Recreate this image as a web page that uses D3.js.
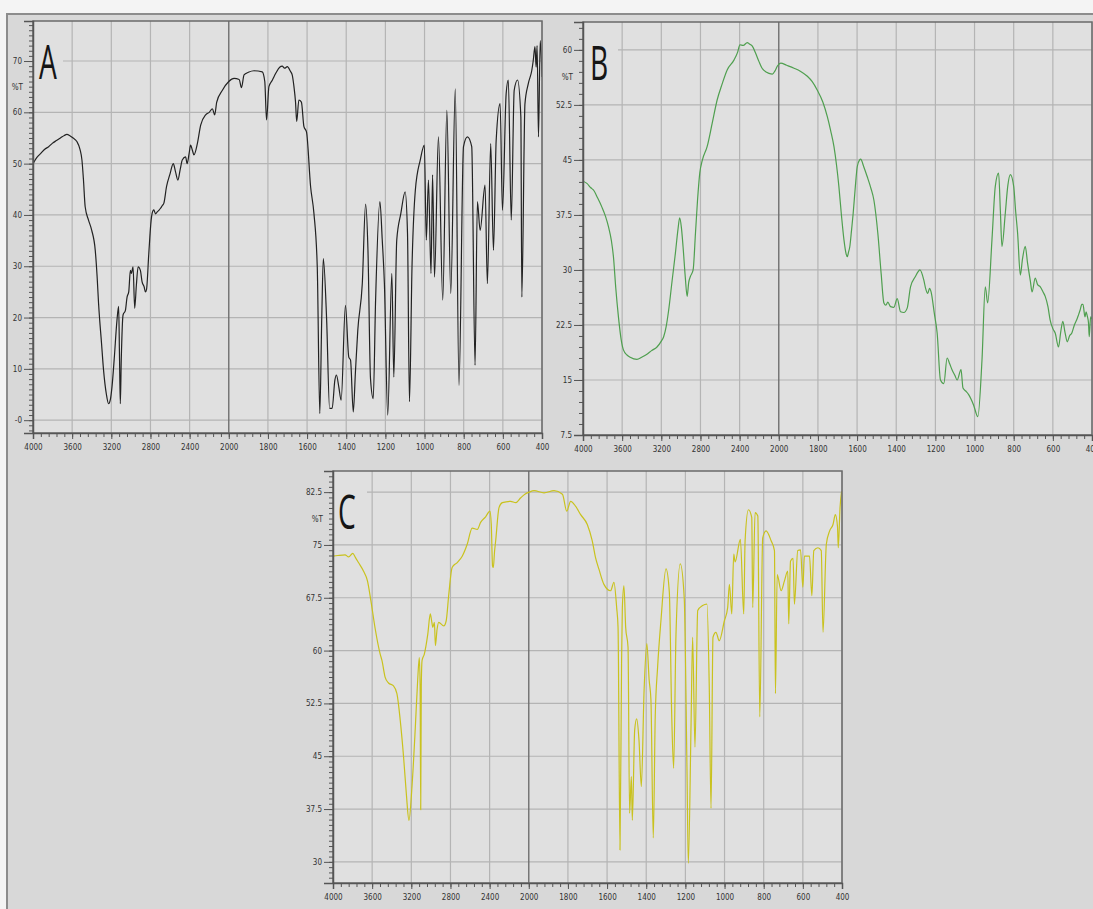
<!DOCTYPE html>
<html>
<head>
<meta charset="utf-8">
<script src="https://cdn.jsdelivr.net/npm/d3@7"></script>
<style>
  html, body { margin: 0; padding: 0; background: #f4f4f4; }
  svg { display: block; }
  .tick text { font-family: "DejaVu Sans Condensed", "DejaVu Sans", sans-serif; font-size: 8px; fill: #333; }
</style>
</head>
<body>
<svg id="chart" width="1093" height="909"></svg>
<script>
// wavenumber (cm-1), %T
var spectrumA = [
  [4000,50],[3960,51.2],[3920,52],[3880,52.8],[3840,53.3],[3800,54],[3760,54.5],[3720,55],[3680,55.5],[3654,55.7],
  [3620,55.4],[3590,55],[3552,54.3],[3520,52.8],[3500,50.7],[3485,47],[3467,41.6],[3433,39],[3400,37],[3364,33.1],
  [3345,28],[3330,22.7],[3300,15],[3279,9.7],[3250,5],[3228,3.2],[3210,4],[3193,6.5],[3170,12],[3142,19.5],
  [3125,22.2],[3116,12],[3108,3.2],[3098,12],[3080,20.5],[3056,21.4],[3039,24],[3022,25],[3005,29.2],[2995,28.6],
  [2978,29.9],[2961,21.8],[2944,26.3],[2926,29.9],[2903,29.2],[2886,27],[2865,26],[2851,25],[2840,25.5],[2817,32.5],
  [2793,39],[2783,40.3],[2766,41],[2748,40.2],[2731,40.6],[2714,40.9],[2697,41.3],[2680,41.8],[2663,42.3],[2636,45.5],
  [2600,48],[2567,50],[2545,48.5],[2520,46.8],[2495,49],[2475,50.7],[2441,51.3],[2425,50],[2405,52],[2390,53.6],
  [2370,52.5],[2356,51.7],[2321,53.9],[2287,57.5],[2236,59.5],[2200,60],[2167,60.7],[2144,59.5],[2123,62],[2065,64.3],
  [2000,66],[1973,66.6],[1947,66.4],[1935,64.8],[1922,67.3],[1900,67.8],[1871,68.1],[1829,67.9],[1816,66],[1807,58.5],
  [1795,65],[1777,66.3],[1760,67.6],[1740,68.8],[1727,69],[1715,68.6],[1701,68.9],[1685,68],[1676,67.3],[1667,65],
  [1659,62],[1653,58.2],[1642,62.4],[1629,62],[1616,57.2],[1603,56.2],[1582,45.5],[1565,40.3],[1548,29.9],[1535,1.3],
  [1525,20],[1517,31.5],[1500,19.5],[1485,2.3],[1472,2.3],[1458,7.8],[1450,8.8],[1438,6.5],[1426,3.9],[1404,22.4],
  [1387,12.3],[1378,11.7],[1364,1.6],[1353,9.4],[1341,17.5],[1318,26.6],[1301,42.1],[1289,33.1],[1276,8.1],[1262,4.2],
  [1250,23.4],[1228,42.6],[1216,35.1],[1205,26.6],[1188,1],[1167,28.6],[1157,8.4],[1142,35.1],[1121,40.3],[1099,44.5],
  [1087,36.4],[1077,3.6],[1064,29.9],[1047,44.8],[1022,50.7],[1001,53.6],[991,35.1],[980,46.8],[967,28.6],[959,47.8],
  [949,27.9],[929,55.2],[907,23.4],[886,60.4],[866,24.7],[843,64.6],[824,6.8],[801,53.3],[781,55.2],[759,53.3],
  [742,10.7],[730,42.6],[716,37],[691,45.8],[679,26.6],[662,53.9],[648,33.1],[634,54.6],[614,61.7],[602,40.9],
  [583,63.7],[572,66.3],[557,39],[542,64.3],[525,66.3],[508,59.1],[503,24],[487,61.7],[470,65.6],[452,68.2],
  [445,70],[436,72.8],[430,68.8],[425,73],[418,55.2],[409,74],[400,66.9]
];

var spectrumB = [
  [4000,42.1],[3960,41.8],[3920,41.2],[3894,40.9],[3850,39.8],[3808,38.6],[3770,37.3],[3740,35.9],[3710,34],[3689,31.8],
  [3665,27.5],[3638,23.6],[3610,20.5],[3587,19.1],[3550,18.4],[3518,18.1],[3449,17.8],[3400,18.1],[3347,18.5],[3300,19],
  [3244,19.5],[3200,20.3],[3176,20.9],[3150,22.3],[3125,24.5],[3090,28.5],[3056,32.3],[3030,35.5],[3012,37.1],[2995,35.8],
  [2978,33.2],[2955,29],[2936,26.4],[2920,28.3],[2903,29.1],[2875,30],[2851,35],[2830,39.5],[2807,43.2],[2780,45],
  [2732,46.8],[2680,50],[2629,53.2],[2580,55.3],[2526,57.3],[2458,58.6],[2420,59.7],[2397,60.7],[2363,60.6],[2322,61],
  [2300,60.8],[2270,60.5],[2235,59.5],[2202,58.4],[2175,57.6],[2151,57.2],[2100,56.8],[2065,56.7],[2040,57.1],[2014,57.8],
  [1990,58.2],[1960,57.9],[1922,57.5],[1890,57.1],[1854,56.4],[1830,55.7],[1803,54.5],[1775,52.9],[1752,50.9],[1735,49],
  [1718,46.8],[1705,44.3],[1693,41.4],[1680,37.5],[1667,34.1],[1656,32.2],[1650,31.8],[1644,32.4],[1637,33.2],[1628,35.5],
  [1620,37.7],[1610,41],[1599,44.1],[1587,45],[1582,45.1],[1565,44],[1548,42.7],[1530,41.2],[1514,39.5],[1494,35],
  [1477,29.5],[1463,25.5],[1453,25.2],[1443,25.6],[1429,25],[1412,24.9],[1395,26.1],[1378,24.3],[1361,24.2],[1344,24.8],
  [1327,27.7],[1302,29.1],[1290,29.7],[1279,30],[1259,28.6],[1250,27.5],[1239,26.8],[1230,27.5],[1222,27],[1205,24],
  [1191,21.4],[1174,15],[1157,14.5],[1140,18],[1127,17.2],[1115,16.4],[1100,15.6],[1089,15],[1069,16.4],[1059,13.9],
  [1045,13.5],[1030,13],[1005,11.6],[983,10],[962,17.7],[945,27.7],[933,25.5],[911,34.1],[894,41.4],[877,43.2],
  [868,38],[860,33.2],[843,37.7],[830,41.5],[817,43],[800,41.4],[790,38],[780,35],[766,29.3],[755,31.5],
  [741,33.2],[729,30.9],[715,28.5],[706,27],[690,28.9],[678,28],[664,27.7],[650,27],[639,26.4],[625,25],
  [614,23.2],[600,22],[588,21.4],[571,19.5],[560,21.5],[549,23],[538,21.5],[526,20.2],[515,21],[503,21.4],
  [490,22.5],[478,23.2],[470,23.8],[461,24.5],[452,25.3],[446,25.3],[436,23.6],[430,24.3],[424,23.7],[418,22.8],
  [414,20.9],[407,23.6],[400,23.3]
];

var spectrumC = [
  [4000,73.4],[3950,73.5],[3877,73.6],[3840,73.3],[3798,73.8],[3770,73.2],[3740,72.5],[3689,71.3],[3648,69.9],[3613,67.1],
  [3569,63.1],[3518,59.5],[3500,58.6],[3467,56.2],[3433,55.4],[3382,55],[3347,53.9],[3313,50.1],[3279,44.9],[3251,39.7],
  [3224,35.9],[3193,40.7],[3159,49.1],[3135,55.8],[3118,59],[3110,55],[3104,37.4],[3098,55],[3090,58.6],[3067,59.5],
  [3032,62.3],[3006,65.2],[2990,64],[2981,63.3],[2964,64],[2954,60.7],[2937,63],[2920,64],[2868,63.5],[2844,64.2],
  [2817,68],[2783,71.8],[2731,72.5],[2680,73.4],[2629,75.1],[2578,77.4],[2526,77.2],[2492,78.2],[2441,79],[2397,79.8],
  [2383,77.9],[2370,72],[2362,71.8],[2350,74],[2338,75.6],[2304,80.3],[2270,81],[2185,81.2],[2133,81],[2082,81.7],
  [2040,82.2],[1998,82.5],[1973,82.7],[1922,82.4],[1871,82.7],[1828,82.2],[1806,79.8],[1786,81.2],[1761,80.5],[1735,79.3],
  [1701,77.9],[1676,75.6],[1659,73.2],[1642,71.6],[1616,69.4],[1582,68.5],[1565,69.7],[1551,66.1],[1544,63.3],[1534,31.7],
  [1526,58],[1522,66.1],[1514,69.2],[1505,63.3],[1493,60.5],[1485,36.9],[1476,42.1],[1471,35.9],[1459,48.7],[1449,50.3],
  [1437,47.3],[1425,40.7],[1411,54.3],[1397,61],[1385,55.8],[1376,53],[1364,33.4],[1354,50.6],[1342,57.6],[1325,64.2],
  [1299,71.6],[1282,68.3],[1270,51],[1260,43.3],[1248,62.3],[1226,72.3],[1206,67.5],[1192,43.5],[1185,29.8],[1171,49.6],
  [1163,61.9],[1151,46.3],[1137,65.7],[1112,66.4],[1090,66.6],[1078,54.8],[1069,37.6],[1059,61.9],[1044,62.6],[1027,61.4],
  [1001,64.2],[984,66.1],[975,69.4],[963,65.2],[953,73.7],[946,72.6],[919,75.8],[902,65.2],[895,75.6],[878,80],
  [861,78.9],[856,66.1],[844,79.6],[830,79.1],[820,50.6],[805,76],[788,77],[762,75.6],[745,74.2],[740,53.9],
  [731,70.8],[711,68.5],[694,69.9],[677,71.3],[672,63.8],[663,72.7],[650,73.1],[643,66.6],[626,74.2],[612,74.3],
  [600,69],[592,73.4],[566,73.4],[554,67.8],[544,74.2],[523,74.6],[506,74.2],[497,62.6],[480,75.1],[463,77],
  [446,77.9],[434,79.3],[423,77.6],[419,74.6],[410,80.3],[402,82.6]
];

var xTicks = [4000, 3600, 3200, 2800, 2400, 2000, 1800, 1600, 1400, 1200, 1000, 800, 600, 400];

var yTicksA = [0, 10, 20, 30, 40, 50, 60, 70];
var yLabelsA = ["-0", "10", "20", "30", "40", "50", "60", "70"];
var yTicksB = [7.5, 15, 22.5, 30, 37.5, 45, 52.5, 60];
var yLabelsB = ["7.5", "15", "22.5", "30", "37.5", "45", "52.5", "60"];
var yTicksC = [30, 37.5, 45, 52.5, 60, 67.5, 75, 82.5];
var yLabelsC = ["30", "37.5", "45", "52.5", "60", "67.5", "75", "82.5"];

var svg = d3.select("#chart");

// grey frame behind the three panels
svg.append("rect").attr("x", 7).attr("y", 14).attr("width", 1100).attr("height", 900)
  .attr("fill", "#d8d8d8").attr("stroke", "#8c8c8c").attr("stroke-width", 2);

function drawPanel(p) {
  var w = p.x1 - p.x0;
  var x = d3.scaleLinear().domain([4000, 2000, 400]).range([p.x0, p.x0 + w * 5 / 13, p.x1]);
  var y = d3.scaleLinear().domain(p.yDomain).range([p.yBot, p.yTop]);

  var g = svg.append("g");
  var clipId = "clip" + p.letter;
  g.append("clipPath").attr("id", clipId).append("rect")
    .attr("x", p.x0).attr("y", p.yTop).attr("width", w).attr("height", p.yBot - p.yTop);

  g.append("rect").attr("x", p.x0).attr("y", p.yTop).attr("width", w).attr("height", p.yBot - p.yTop)
    .attr("fill", "#e0e0e0");

  // grid
  g.append("g").selectAll("line").data(p.yTicks).join("line")
    .attr("x1", p.x0).attr("x2", p.x1).attr("y1", d => y(d)).attr("y2", d => y(d))
    .attr("stroke", "#b4b4b4").attr("stroke-width", 1.2);
  g.append("g").selectAll("line").data(xTicks).join("line")
    .attr("x1", d => x(d)).attr("x2", d => x(d)).attr("y1", p.yTop).attr("y2", p.yBot)
    .attr("stroke", d => d === 2000 ? "#707070" : "#b4b4b4")
    .attr("stroke-width", d => d === 2000 ? 1.4 : 1.2);

  // letter with its own background patch
  g.append("rect").attr("x", p.x0 + 1).attr("y", p.yTop + 18).attr("width", p.letterBox).attr("height", 46)
    .attr("fill", "#e0e0e0");
  g.append("text").attr("transform", "translate(" + (p.x0 + p.letterDx) + "," + (p.yTop + 58) + ") scale(0.6,1)")
    .attr("font-family", "'Open Sans', 'DejaVu Sans', sans-serif").attr("font-size", 47)
    .attr("fill", "#151515").text(p.letter);

  // spectrum
  var line = d3.line().x(d => x(d[0])).y(d => y(d[1])).curve(d3.curveMonotoneX);
  g.append("path").datum(p.data).attr("d", line).attr("clip-path", "url(#" + clipId + ")")
    .attr("fill", "none").attr("stroke", p.color).attr("stroke-width", p.width)
    .attr("stroke-linejoin", "round");

  g.append("rect").attr("x", p.x0).attr("y", p.yTop).attr("width", w).attr("height", p.yBot - p.yTop)
    .attr("fill", "none").attr("stroke", "#6a6a6a").attr("stroke-width", 1.5);

  // x axis
  var xMinor = d3.range(4000, 2000, -80).concat(d3.range(2000, 399, -40));
  g.append("g").attr("transform", "translate(0," + p.yBot + ")")
    .call(d3.axisBottom(x).tickValues(xMinor).tickSize(4).tickFormat(""))
    .call(a => a.select(".domain").remove())
    .selectAll("line").attr("stroke", "#555");
  var xa = g.append("g").attr("transform", "translate(0," + p.yBot + ")")
    .call(d3.axisBottom(x).tickValues(xTicks).tickSize(6).tickPadding(5).tickFormat(d3.format("d")));
  xa.select(".domain").attr("stroke", "#555").attr("stroke-width", 1.5);
  xa.selectAll("line").attr("stroke", "#555");

  // y axis
  var step = p.yTicks[1] - p.yTicks[0];
  var yMinor = [];
  for (var v = p.yTicks[0] - step; v <= p.yDomain[1] + 0.001; v += step / p.yMinorCount) {
    if (v >= p.yDomain[0] - 0.001) yMinor.push(v);
  }
  g.append("g").attr("transform", "translate(" + p.x0 + ",0)")
    .call(d3.axisLeft(y).tickValues(yMinor).tickSize(4).tickFormat(""))
    .call(a => a.select(".domain").remove())
    .selectAll("line").attr("stroke", "#555");
  var ya = g.append("g").attr("transform", "translate(" + p.x0 + ",0)")
    .call(d3.axisLeft(y).tickValues(p.yTicks).tickSize(9).tickPadding(2)
      .tickFormat((d, i) => p.yLabels[i]));
  ya.select(".domain").attr("stroke", "#555").attr("stroke-width", 1.5);
  ya.selectAll("line").attr("stroke", "#555");

  var n = p.yTicks.length;
  g.append("text").attr("x", p.x0 - 10).attr("y", (y(p.yTicks[n - 1]) + y(p.yTicks[n - 2])) / 2 + 3)
    .attr("text-anchor", "end").attr("font-family", "'DejaVu Sans Condensed', sans-serif")
    .attr("font-size", 8).attr("fill", "#333").text("%T");
}

drawPanel({ letter: "A", data: spectrumA, color: "#222222", width: 1.2,
  x0: 33, x1: 542, yTop: 21, yBot: 433, yDomain: [-2.5, 77.8],
  yTicks: yTicksA, yLabels: yLabelsA, yMinorCount: 10, letterBox: 29, letterDx: 6 });

drawPanel({ letter: "B", data: spectrumB, color: "#4f9f4f", width: 1.2,
  x0: 583, x1: 1092, yTop: 22, yBot: 435, yDomain: [7.5, 63.8],
  yTicks: yTicksB, yLabels: yLabelsB, yMinorCount: 5, letterBox: 34, letterDx: 7 });

drawPanel({ letter: "C", data: spectrumC, color: "#c9c21e", width: 1.2,
  x0: 333, x1: 842, yTop: 471, yBot: 883, yDomain: [27, 85.5],
  yTicks: yTicksC, yLabels: yLabelsC, yMinorCount: 10, letterBox: 33, letterDx: 5 });
</script>
</body>
</html>
